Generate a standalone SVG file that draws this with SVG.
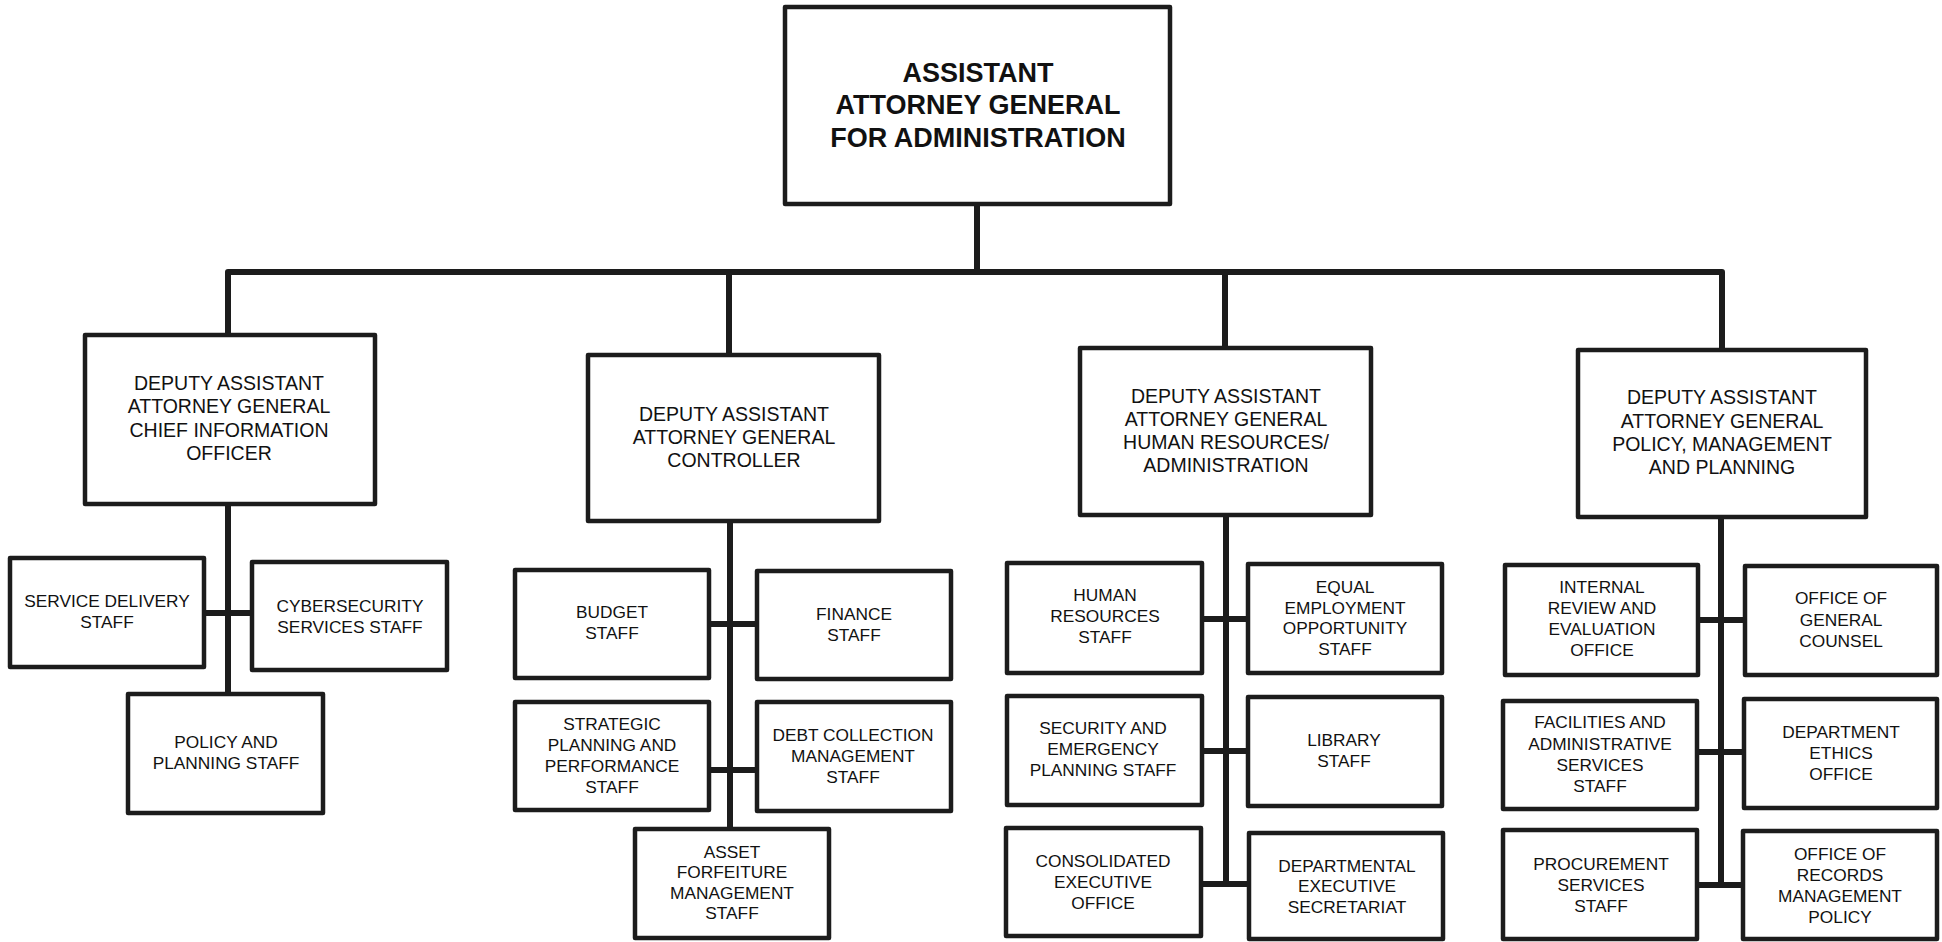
<svg xmlns="http://www.w3.org/2000/svg" width="1942" height="942" viewBox="0 0 1942 942">
<style>
.bx{fill:#fff;stroke:#1c1c1c;stroke-width:4.5;stroke-linejoin:round}
.cn{fill:none;stroke:#1c1c1c;stroke-width:6;stroke-linejoin:round}
text{font-family:"Liberation Sans",Arial,sans-serif;fill:#111;text-anchor:middle}
.t0{font-size:27px;font-weight:bold}
.t1{font-size:19.5px}
.t2{font-size:17.3px}
</style>
<rect width="1942" height="942" fill="#fff"/>
<g id="connectors">
<path class="cn" d="M977,204 V272 M228,335 V272 H1722 V350 M729,272 V355 M1225,272 V348"/>
<path class="cn" d="M228,504 V694 M206,613 H252"/>
<path class="cn" d="M730,521 V829 M709,624 H757 M709,770 H757"/>
<path class="cn" d="M1226,515 V884 M1202,619 H1248 M1202,751 H1248 M1201,884 H1249"/>
<path class="cn" d="M1721,517 V885 M1698,620 H1745 M1697,752 H1744 M1697,885 H1743"/>
</g>
<g id="aag"><rect class="bx" x="785" y="7" width="385" height="197"/>
<text class="t0"><tspan x="978" y="82">ASSISTANT</tspan><tspan x="978" y="114">ATTORNEY GENERAL</tspan><tspan x="978" y="147">FOR ADMINISTRATION</tspan></text></g>
<g id="daag-cio"><rect class="bx" x="85" y="335" width="290" height="169"/>
<text class="t1"><tspan x="229" y="390">DEPUTY ASSISTANT</tspan><tspan x="229" y="413">ATTORNEY GENERAL</tspan><tspan x="229" y="437">CHIEF INFORMATION</tspan><tspan x="229" y="460">OFFICER</tspan></text></g>
<g id="daag-controller"><rect class="bx" x="588" y="355" width="291" height="166"/>
<text class="t1"><tspan x="734" y="421">DEPUTY ASSISTANT</tspan><tspan x="734" y="444">ATTORNEY GENERAL</tspan><tspan x="734" y="467">CONTROLLER</tspan></text></g>
<g id="daag-hr"><rect class="bx" x="1080" y="348" width="291" height="167"/>
<text class="t1"><tspan x="1226" y="403">DEPUTY ASSISTANT</tspan><tspan x="1226" y="426">ATTORNEY GENERAL</tspan><tspan x="1226" y="449">HUMAN RESOURCES/</tspan><tspan x="1226" y="472">ADMINISTRATION</tspan></text></g>
<g id="daag-pmp"><rect class="bx" x="1578" y="350" width="288" height="167"/>
<text class="t1"><tspan x="1722" y="404">DEPUTY ASSISTANT</tspan><tspan x="1722" y="428">ATTORNEY GENERAL</tspan><tspan x="1722" y="451">POLICY, MANAGEMENT</tspan><tspan x="1722" y="474">AND PLANNING</tspan></text></g>
<g id="service-delivery"><rect class="bx" x="10" y="558" width="194" height="109"/>
<text class="t2"><tspan x="107" y="607">SERVICE DELIVERY</tspan><tspan x="107" y="628">STAFF</tspan></text></g>
<g id="cybersecurity"><rect class="bx" x="252" y="562" width="195" height="108"/>
<text class="t2"><tspan x="350" y="612">CYBERSECURITY</tspan><tspan x="350" y="633">SERVICES STAFF</tspan></text></g>
<g id="policy-planning"><rect class="bx" x="128" y="694" width="195" height="119"/>
<text class="t2"><tspan x="226" y="748">POLICY AND</tspan><tspan x="226" y="769">PLANNING STAFF</tspan></text></g>
<g id="budget"><rect class="bx" x="515" y="570" width="194" height="108"/>
<text class="t2"><tspan x="612" y="618">BUDGET</tspan><tspan x="612" y="639">STAFF</tspan></text></g>
<g id="finance"><rect class="bx" x="757" y="571" width="194" height="108"/>
<text class="t2"><tspan x="854" y="620">FINANCE</tspan><tspan x="854" y="641">STAFF</tspan></text></g>
<g id="strategic"><rect class="bx" x="515" y="702" width="194" height="108"/>
<text class="t2"><tspan x="612" y="730">STRATEGIC</tspan><tspan x="612" y="751">PLANNING AND</tspan><tspan x="612" y="772">PERFORMANCE</tspan><tspan x="612" y="793">STAFF</tspan></text></g>
<g id="debt"><rect class="bx" x="757" y="702" width="194" height="109"/>
<text class="t2"><tspan x="853" y="741">DEBT COLLECTION</tspan><tspan x="853" y="762">MANAGEMENT</tspan><tspan x="853" y="783">STAFF</tspan></text></g>
<g id="asset"><rect class="bx" x="635" y="829" width="194" height="109"/>
<text class="t2"><tspan x="732" y="858">ASSET</tspan><tspan x="732" y="878">FORFEITURE</tspan><tspan x="732" y="899">MANAGEMENT</tspan><tspan x="732" y="919">STAFF</tspan></text></g>
<g id="hr-staff"><rect class="bx" x="1007" y="563" width="195" height="110"/>
<text class="t2"><tspan x="1105" y="601">HUMAN</tspan><tspan x="1105" y="622">RESOURCES</tspan><tspan x="1105" y="643">STAFF</tspan></text></g>
<g id="eeo"><rect class="bx" x="1248" y="564" width="194" height="109"/>
<text class="t2"><tspan x="1345" y="593">EQUAL</tspan><tspan x="1345" y="614">EMPLOYMENT</tspan><tspan x="1345" y="634">OPPORTUNITY</tspan><tspan x="1345" y="655">STAFF</tspan></text></g>
<g id="security"><rect class="bx" x="1007" y="696" width="195" height="109"/>
<text class="t2"><tspan x="1103" y="734">SECURITY AND</tspan><tspan x="1103" y="755">EMERGENCY</tspan><tspan x="1103" y="776">PLANNING STAFF</tspan></text></g>
<g id="library"><rect class="bx" x="1248" y="697" width="194" height="109"/>
<text class="t2"><tspan x="1344" y="746">LIBRARY</tspan><tspan x="1344" y="767">STAFF</tspan></text></g>
<g id="consolidated"><rect class="bx" x="1006" y="828" width="195" height="108"/>
<text class="t2"><tspan x="1103" y="867">CONSOLIDATED</tspan><tspan x="1103" y="888">EXECUTIVE</tspan><tspan x="1103" y="909">OFFICE</tspan></text></g>
<g id="departmental"><rect class="bx" x="1249" y="833" width="194" height="106"/>
<text class="t2"><tspan x="1347" y="872">DEPARTMENTAL</tspan><tspan x="1347" y="892">EXECUTIVE</tspan><tspan x="1347" y="913">SECRETARIAT</tspan></text></g>
<g id="internal-review"><rect class="bx" x="1505" y="565" width="193" height="110"/>
<text class="t2"><tspan x="1602" y="593">INTERNAL</tspan><tspan x="1602" y="614">REVIEW AND</tspan><tspan x="1602" y="635">EVALUATION</tspan><tspan x="1602" y="656">OFFICE</tspan></text></g>
<g id="ogc"><rect class="bx" x="1745" y="566" width="192" height="109"/>
<text class="t2"><tspan x="1841" y="604">OFFICE OF</tspan><tspan x="1841" y="626">GENERAL</tspan><tspan x="1841" y="647">COUNSEL</tspan></text></g>
<g id="facilities"><rect class="bx" x="1503" y="701" width="194" height="108"/>
<text class="t2"><tspan x="1600" y="728">FACILITIES AND</tspan><tspan x="1600" y="750">ADMINISTRATIVE</tspan><tspan x="1600" y="771">SERVICES</tspan><tspan x="1600" y="792">STAFF</tspan></text></g>
<g id="ethics"><rect class="bx" x="1744" y="699" width="193" height="109"/>
<text class="t2"><tspan x="1841" y="738">DEPARTMENT</tspan><tspan x="1841" y="759">ETHICS</tspan><tspan x="1841" y="780">OFFICE</tspan></text></g>
<g id="procurement"><rect class="bx" x="1503" y="830" width="194" height="109"/>
<text class="t2"><tspan x="1601" y="870">PROCUREMENT</tspan><tspan x="1601" y="891">SERVICES</tspan><tspan x="1601" y="912">STAFF</tspan></text></g>
<g id="records"><rect class="bx" x="1743" y="831" width="194" height="108"/>
<text class="t2"><tspan x="1840" y="860">OFFICE OF</tspan><tspan x="1840" y="881">RECORDS</tspan><tspan x="1840" y="902">MANAGEMENT</tspan><tspan x="1840" y="923">POLICY</tspan></text></g>
</svg>
